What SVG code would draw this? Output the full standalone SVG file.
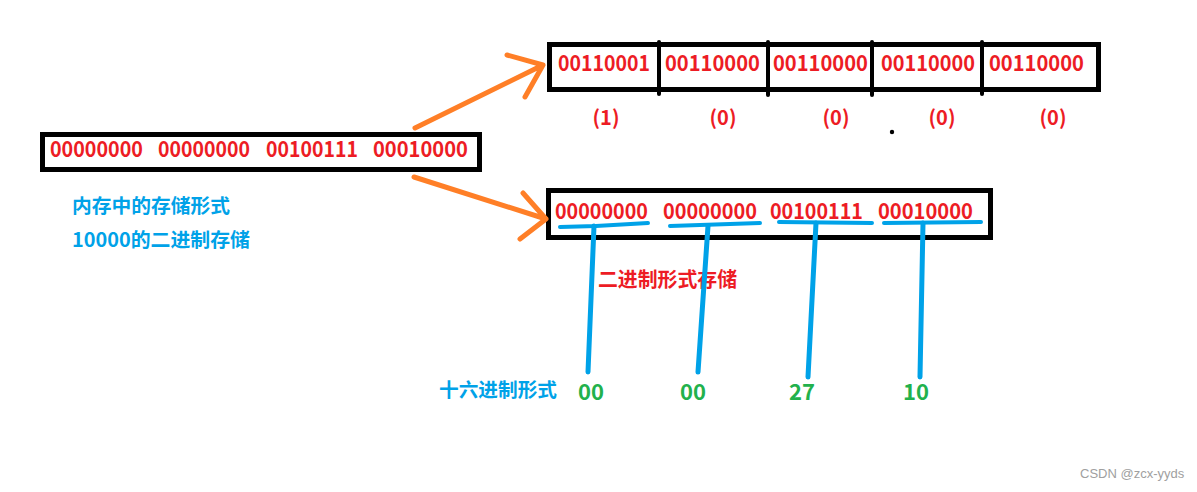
<svg xmlns="http://www.w3.org/2000/svg" width="1197" height="492" viewBox="0 0 1197 492">
<style>
text{font-family:"Noto Sans CJK SC","Noto Sans",sans-serif;font-weight:bold}
.r{fill:#ed1c24;font-size:22px}
.rl{fill:#ed1c24;font-size:20px;text-anchor:middle}
.b{fill:#00a2e8;font-size:19.5px}
.g{fill:#22b14c;font-size:22px;text-anchor:middle}
.box{fill:none;stroke:#000;stroke-width:5}
.div{stroke:#000;stroke-width:4;stroke-linecap:round}
.or{fill:none;stroke:#ff7f27;stroke-width:5;stroke-linecap:round;stroke-linejoin:round}
.bl{fill:none;stroke:#00a2e8;stroke-width:4;stroke-linecap:round}
.blv{fill:none;stroke:#00a2e8;stroke-width:5;stroke-linecap:round}
.wm{font-family:"Liberation Sans",Arial,sans-serif;font-weight:normal;font-size:13px;fill:#a0a0a0}
</style>
<rect width="1197" height="492" fill="#fff"/>
<g id="memory-box">
<rect class="box" x="42.5" y="134.5" width="437" height="35"/>
<text class="r" x="50" y="157" textLength="93" lengthAdjust="spacingAndGlyphs">00000000</text>
<text class="r" x="158" y="157" textLength="92" lengthAdjust="spacingAndGlyphs">00000000</text>
<text class="r" x="266" y="157" textLength="92" lengthAdjust="spacingAndGlyphs">00100111</text>
<text class="r" x="373" y="157" textLength="95" lengthAdjust="spacingAndGlyphs">00010000</text>
</g>
<g id="memory-label">
<text class="b" x="72" y="213" textLength="158" lengthAdjust="spacingAndGlyphs">内存中的存储形式</text>
<text class="b" x="72" y="247" textLength="178" lengthAdjust="spacingAndGlyphs">10000的二进制存储</text>
</g>
<g id="char-boxes">
<rect class="box" x="549.5" y="44.5" width="549" height="45"/>
<line class="div" x1="659" y1="42" x2="659" y2="94"/>
<line class="div" x1="768" y1="42" x2="768" y2="95"/>
<line class="div" x1="872" y1="42" x2="872" y2="95"/>
<line class="div" x1="982" y1="42" x2="982" y2="94"/>
<text class="r" x="558" y="71" textLength="92" lengthAdjust="spacingAndGlyphs">00110001</text>
<text class="r" x="665" y="71" textLength="95" lengthAdjust="spacingAndGlyphs">00110000</text>
<text class="r" x="773" y="71" textLength="95" lengthAdjust="spacingAndGlyphs">00110000</text>
<text class="r" x="881" y="71" textLength="94" lengthAdjust="spacingAndGlyphs">00110000</text>
<text class="r" x="989" y="71" textLength="95" lengthAdjust="spacingAndGlyphs">00110000</text>
</g>
<g id="char-labels">
<text class="rl" x="606" y="125">(1)</text>
<text class="rl" x="723" y="125">(0)</text>
<text class="rl" x="836" y="125">(0)</text>
<text class="rl" x="942" y="125">(0)</text>
<text class="rl" x="1053" y="125">(0)</text>
<circle cx="892" cy="132" r="2.2" fill="#000"/>
</g>
<g id="binary-box">
<rect class="box" x="548.5" y="190.5" width="442" height="47"/>
<text class="r" x="555" y="219" textLength="93" lengthAdjust="spacingAndGlyphs">00000000</text>
<text class="r" x="663" y="219" textLength="94" lengthAdjust="spacingAndGlyphs">00000000</text>
<text class="r" x="770" y="219" textLength="93" lengthAdjust="spacingAndGlyphs">00100111</text>
<text class="r" x="878" y="219" textLength="95" lengthAdjust="spacingAndGlyphs">00010000</text>
</g>
<g id="binary-label">
<text x="598" y="287" fill="#ed1c24" font-size="20" textLength="139" lengthAdjust="spacingAndGlyphs">二进制形式存储</text>
</g>
<g id="hex-label">
<text class="b" x="439" y="397" textLength="118" lengthAdjust="spacingAndGlyphs">十六进制形式</text>
</g>
<g id="hex-values">
<text class="g" x="591" y="400">00</text>
<text class="g" x="693" y="400">00</text>
<text class="g" x="802" y="400">27</text>
<text class="g" x="916" y="400">10</text>
</g>
<g id="connectors">
<path class="or" d="M415 128 L543 65 M507 55 L543 65 L525 97"/>
<path class="or" d="M414 177 L546 219 M523 193 L546 219 L520 239"/>
<path class="bl" d="M560 227 L596 226 L648 223"/>
<path class="blv" d="M594 226 L588 372"/>
<path class="bl" d="M670 226 L760 223"/>
<path class="blv" d="M708 226 L698 372"/>
<path class="bl" d="M779 222 L872 223"/>
<path class="blv" d="M816 223 L808 377"/>
<path class="bl" d="M884 223 L981 222"/>
<path class="blv" d="M923 223 L920 377"/>
</g>
<text class="wm" x="1080" y="478">CSDN @zcx-yyds</text>
</svg>
